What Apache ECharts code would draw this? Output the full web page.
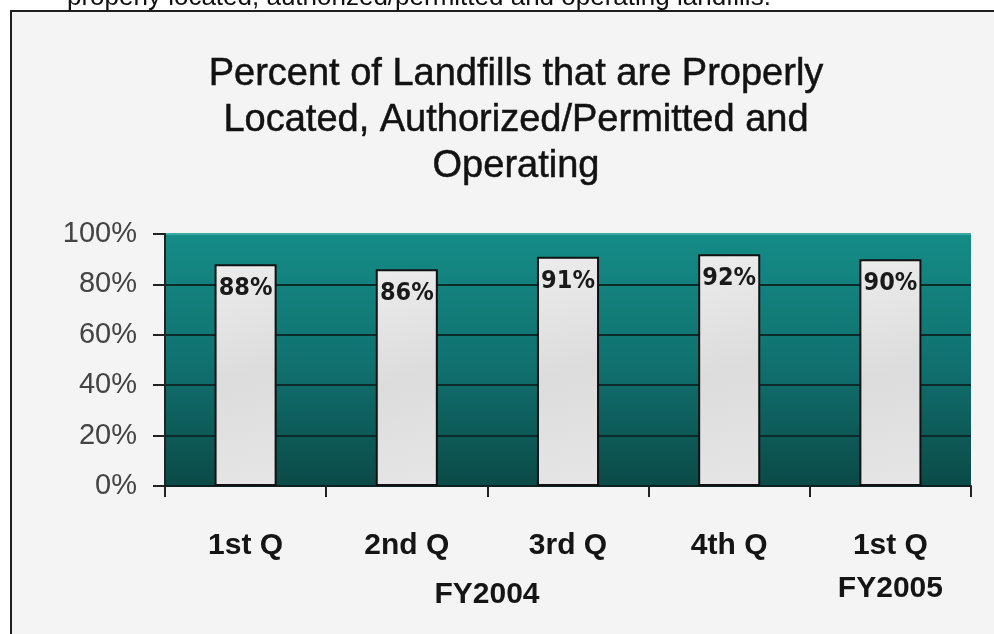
<!DOCTYPE html>
<html>
<head>
<meta charset="utf-8">
<script src="https://cdn.jsdelivr.net/npm/echarts@6/dist/echarts.min.js"></script>
<style>
  html, body { margin: 0; padding: 0; background: #fff; }
  #chart { width: 994px; height: 634px; }
</style>
</head>
<body>
<div id="chart"></div>
<script>
// 季度标签与数值
var quarters = ['1st Q', '2nd Q', '3rd Q', '4th Q', '1st Q\nFY2005'];
var percentValues = [88, 86, 91, 92, 90];
var yTicks = [0, 20, 40, 60, 80, 100];
var titleLines = ['Percent of Landfills that are Properly', 'Located, Authorized/Permitted and', 'Operating'];
var captionTop = 'properly located, authorized/permitted and operating landfills.';
var groupLabel = 'FY2004';

var myEchart = echarts.init(document.getElementById('chart'));

var option = {
  backgroundColor: '#ffffff',
  animation: false,
  title: {
    text: titleLines.join('\n'),
    left: 511,
    textAlign: 'center',
    top: 47,
    textStyle: {
      fontFamily: 'Liberation Sans, Arial, sans-serif',
      fontSize: 38,
      fontWeight: 'normal',
      color: '#121212',
      lineHeight: 46,
      textBorderColor: '#121212',
      textBorderWidth: 0.5
    }
  },
  graphic: [
    {
      type: 'rect',
      z: -100,
      shape: { x: 11, y: 11, width: 1100, height: 800 },
      style: { fill: '#f4f4f4', stroke: '#1e1e1e', lineWidth: 2 }
    },
    {
      type: 'text',
      z: -90,
      x: 67,
      y: -2,
      style: {
        text: captionTop,
        font: '26px "Liberation Sans", Arial, sans-serif',
        fill: '#111',
        verticalAlign: 'middle'
      }
    },
    {
      type: 'text',
      x: 487,
      y: 595,
      style: {
        text: groupLabel,
        font: 'bold 30px "Liberation Sans", Arial, sans-serif',
        fill: '#151515',
        align: 'center',
        verticalAlign: 'middle'
      }
    }
  ],
  grid: {
    left: 165,
    right: 23,
    top: 234,
    bottom: 148,
    show: true,
    borderWidth: 0,
    backgroundColor: new echarts.graphic.LinearGradient(0, 0, 0, 1, [
      { offset: 0, color: '#158c87' },
      { offset: 0.5, color: '#107270' },
      { offset: 1, color: '#0b4a47' }
    ])
  },
  xAxis: {
    type: 'category',
    data: quarters,
    axisLine: { show: true, lineStyle: { color: '#0c2222', width: 2 } },
    axisTick: { show: true, length: 11, lineStyle: { color: '#222', width: 2 } },
    axisLabel: {
      margin: 38,
      fontFamily: 'Liberation Sans, Arial, sans-serif',
      fontSize: 30,
      fontWeight: 'bold',
      color: '#151515',
      lineHeight: 43
    }
  },
  yAxis: {
    type: 'value',
    min: yTicks[0],
    max: yTicks[yTicks.length - 1],
    interval: 20,
    axisLine: { show: true, lineStyle: { color: '#222', width: 2 } },
    axisTick: { show: true, length: 12, lineStyle: { color: '#222', width: 2 } },
    axisLabel: {
      margin: 28,
      fontFamily: 'Liberation Sans, Arial, sans-serif',
      fontSize: 29,
      color: '#444',
      formatter: function (value) { return value + '%'; }
    },
    splitLine: {
      show: true,
      lineStyle: {
        color: ['#0b2b2b', '#0b2b2b', '#0b2b2b', '#0b2b2b', '#0b2b2b', '#3aa8a4'],
        width: 2
      }
    }
  },
  series: [{
    type: 'bar',
    data: percentValues,
    barWidth: '38.5%',
    itemStyle: {
      color: new echarts.graphic.LinearGradient(0, 0, 1, 1, [
        { offset: 0, color: '#ececec' },
        { offset: 0.5, color: '#dcdcdc' },
        { offset: 1, color: '#e6e6e6' }
      ]),
      borderColor: '#111',
      borderWidth: 2
    },
    label: {
      show: true,
      position: 'insideTop',
      distance: 12,
      formatter: '{c}%',
      fontFamily: '"Liberation Sans Narrow", "DejaVu Sans Condensed", Arial, sans-serif',
      fontSize: 25,
      fontWeight: 'bold',
      color: '#1a1a1a'
    }
  }]
};

myEchart.setOption(option);
</script>
</body>
</html>
